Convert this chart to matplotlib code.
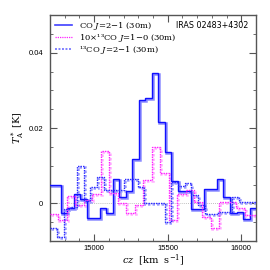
import matplotlib
matplotlib.use('Agg')
import matplotlib.pyplot as plt
import matplotlib.transforms as mtransforms
import numpy as np

plt.rcParams['font.family'] = ['DejaVu Serif']
plt.rcParams['mathtext.fontset'] = 'dejavuserif'

# channel grids (km/s)
co_start, co_width = 14686, 44.2
m13_start, m13_width = 14698, 57.7
b13_start, b13_width = 14701, 45.75

# CO J=2-1 (30m)
co21 = [0.0048, 0.0048, -0.0025, -0.0012, 0.0026, 0.0012, -0.0038, -0.0038,
        -0.0012, -0.0025, 0.0064, 0.0018, 0.0034, 0.0117, 0.0274, 0.0281,
        0.0346, 0.0216, 0.0137, 0.0059, 0.0033, 0.0033, -0.0016, -0.0016,
        0.0039, 0.0039, 0.0066, 0.0016, -0.0026, -0.0024, -0.0042, -0.0013,
        -0.0013]
# 10 x 13CO J=1-0 (30m)
co13_10 = [-0.0027, -0.0045, 0.0019, -0.0005, 0.0010, 0.0026, 0.0138, 0.0029,
           0.0000, -0.0025, -0.0003, 0.0062, 0.0150, 0.0080, -0.0044, 0.0026,
           0.0037, 0.0005, -0.0035, -0.0066, 0.0004, 0.0003, -0.0012, -0.0031,
           -0.0031]
# 13CO J=2-1 (30m)
co13_21 = [-0.0066, -0.0090, -0.0015, -0.0010, 0.0099, 0.0006, 0.0043, 0.0069,
           0.0035, 0.0035, 0.0035, 0.0064, 0.0064, 0.0044, 0.0000, 0.0000,
           0.0000, -0.0049, 0.0057, 0.0045, 0.0055, 0.0022, -0.0005, -0.0027,
           -0.0027, -0.0022, -0.0022, 0.0017, 0.0003, 0.0003, 0.0003, 0.0003]

labels = ['CO $J$=2\u22121 (30m)', '10\u00d7\u00b9\u00b3CO $J$=1\u22120 (30m)',
          '\u00b9\u00b3CO $J$=2\u22121 (30m)']


def edges(start, width, n):
    return start + width * np.arange(n + 1)


fig = plt.figure(figsize=(2.7, 2.7), dpi=100)
ax = fig.add_axes([0.185, 0.107, 0.763, 0.837])

shadow = mtransforms.offset_copy(ax.transData, fig=fig, x=1, y=-1, units='dots')

ax.axhline(0, color='#aaaaaa', lw=0.6, ls=(0, (1, 1.5)), zorder=1)

dot = (0, (1, 0.8))
series = [
    (co21, co_start, co_width, '#1010ff', '#8c8cff', '-'),
    (co13_10, m13_start, m13_width, '#ff22ff', '#ffb0ff', dot),
    (co13_21, b13_start, b13_width, '#2a2aff', '#a0a0ff', dot),
]
for vals, st, w, dark, light, ls in series:
    e = edges(st, w, len(vals))
    ax.stairs(vals, e, baseline=None, color=light, lw=1.8, ls=ls,
              transform=shadow, zorder=2)
    ax.stairs(vals, e, baseline=None, color=dark, lw=1.0, ls=ls, zorder=3)

handles = [plt.Line2D([], [], color='#4040ff', lw=1.2),
           plt.Line2D([], [], color='#ff22ff', lw=0.9, ls=dot),
           plt.Line2D([], [], color='#8080ff', lw=1.4, ls=dot)]

ax.set_xlim(14700, 16100)
ax.set_ylim(-0.01, 0.05)
ax.set_xticks([15000, 15500, 16000])
ax.set_xticks(np.arange(14700, 16101, 100), minor=True)
ax.set_yticks([0, 0.02, 0.04])
ax.set_yticks(np.arange(-0.01, 0.0501, 0.005), minor=True)
ax.set_yticklabels(['0', '0.02', '0.04'])
ax.tick_params(which='both', direction='in', top=True, right=True,
               labelsize=5.5, color='#555555')
ax.tick_params(axis='x', pad=3)
ax.tick_params(axis='y', pad=5)
ax.tick_params(which='major', length=5, width=0.8)
ax.tick_params(which='minor', length=2.5, width=0.6)
for lab in ax.get_xticklabels() + ax.get_yticklabels():
    lab.set_family('Liberation Sans')
for s in ax.spines.values():
    s.set_color('#555555')
    s.set_linewidth(1.0)

ax.set_xlabel('$cz$  [km  s$^{-1}$]', fontsize=7)
ax.xaxis.set_label_coords(0.5, -0.088)
ax.xaxis.label.set_va('center')
ax.set_ylabel('$T^*_{\\rm A}$ [K]', fontsize=7)
ax.yaxis.set_label_coords(-0.155, 0.5)
ax.yaxis.label.set_va('center')

ax.legend(handles, labels, loc='upper left', frameon=False, fontsize=6.0,
          handlelength=2.1, handletextpad=0.8, labelspacing=0.0,
          borderaxespad=0.1, borderpad=0.5)
ax.text(0.965, 0.952, 'IRAS 02483+4302', transform=ax.transAxes,
        ha='right', va='center', fontsize=5.8, family='DejaVu Sans')

fig.savefig('out.png', dpi=100)
